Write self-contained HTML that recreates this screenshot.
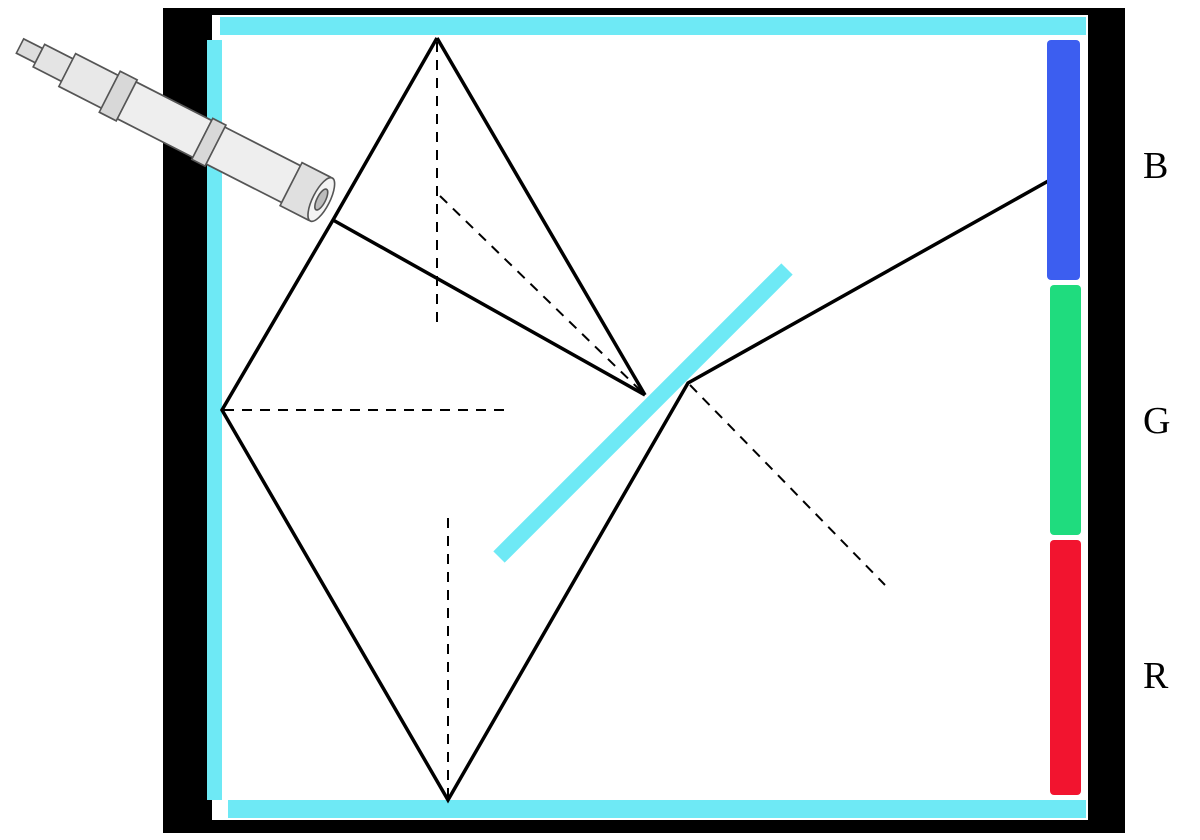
<!DOCTYPE html>
<html><head><meta charset="utf-8"><style>
html,body{margin:0;padding:0;background:#fff;}
svg{display:block;}
</style></head><body>
<svg width="1200" height="840" viewBox="0 0 1200 840">
  <rect x="0" y="0" width="1200" height="840" fill="#fff"/>
  <g>
    <rect x="163" y="8" width="962" height="825" fill="#000"/>
    <rect x="212" y="15" width="876" height="805" fill="#fff"/>
  </g>
  <rect x="220" y="17" width="866" height="18" fill="#6ee9f5"/>
  <rect x="228" y="800" width="858" height="18" fill="#6ee9f5"/>
  <rect x="207" y="40" width="15" height="760" fill="#6ee9f5"/>
  <line x1="499" y1="557" x2="787" y2="269" stroke="#6ee9f5" stroke-width="16"/>
  <g stroke="#000" stroke-width="3.5" fill="none" stroke-linejoin="miter">
    <polyline points="437,38 333,220 222,410 448,800 688,383 1050,180"/>
    <line x1="437" y1="38" x2="645" y2="395"/>
    <line x1="333" y1="220" x2="645" y2="395"/>
  </g>
  <g stroke="#000" stroke-width="2" stroke-dasharray="10,8" fill="none">
    <line x1="437" y1="42" x2="437" y2="322"/>
    <line x1="440" y1="196" x2="643" y2="393"/>
    <line x1="224" y1="410" x2="505" y2="410"/>
    <line x1="448" y1="518" x2="448" y2="798"/>
    <line x1="690" y1="385" x2="885" y2="585"/>
  </g>
  <rect x="1047" y="40" width="33" height="240" rx="4" fill="#3c5ef0"/>
  <rect x="1050" y="285" width="31" height="250" rx="4" fill="#1fdc7e"/>
  <rect x="1050" y="540" width="31" height="255" rx="4" fill="#f2142f"/>
  <g font-family="'Liberation Serif', serif" font-size="38" fill="#000">
    <text x="1143" y="178">B</text>
    <text x="1143" y="433">G</text>
    <text x="1143" y="688">R</text>
  </g>
  <g transform="translate(20,46) rotate(27) scale(1.06,1.15)" stroke="#555" stroke-width="1.5">
    <rect x="0" y="-7" width="20" height="14" fill="#ddd"/>
    <rect x="20" y="-11" width="30" height="22" fill="#e4e4e4"/>
    <rect x="50" y="-16" width="45" height="32" fill="#e8e8e8"/>
    <rect x="95" y="-20" width="18" height="40" fill="#d8d8d8"/>
    <rect x="113" y="-18" width="80" height="36" fill="#eee"/>
    <rect x="193" y="-20" width="14" height="40" fill="#d8d8d8"/>
    <rect x="207" y="-18" width="80" height="36" fill="#eee"/>
    <rect x="287" y="-21" width="30" height="42" fill="#e0e0e0"/>
    <ellipse cx="319" cy="0" rx="8" ry="21" fill="#f4f4f4"/>
    <ellipse cx="319" cy="0" rx="4" ry="10" fill="#bbb"/>
  </g>
</svg>
</body></html>
